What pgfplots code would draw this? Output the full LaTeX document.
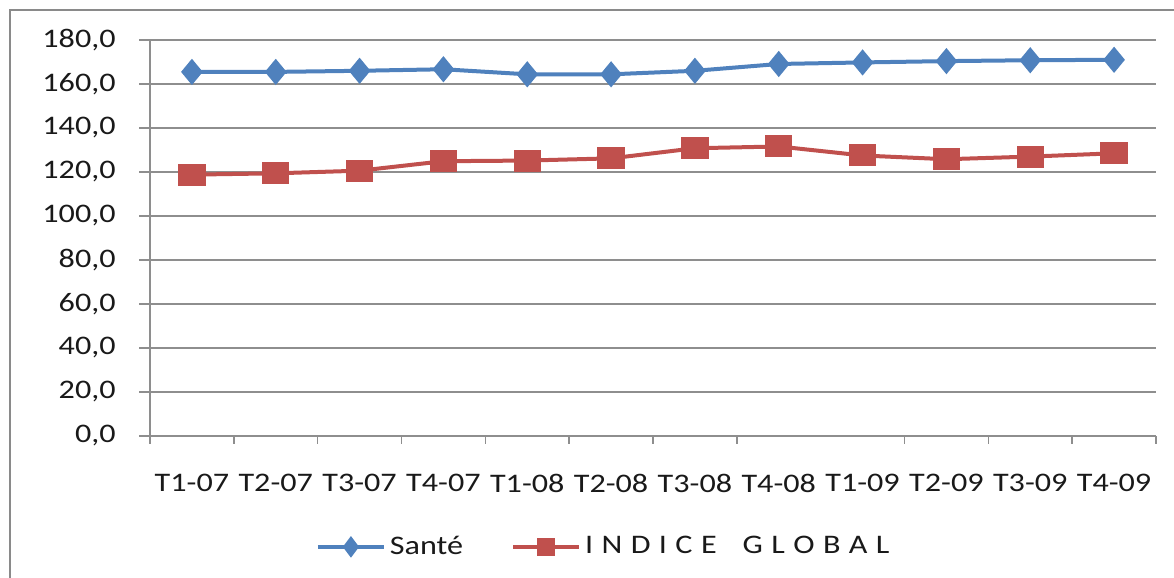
\documentclass[border=0pt]{standalone}
\usepackage{fontspec}
\setmainfont{Carlito}[FakeStretch=1.2]
\usepackage{pgfplots}
\pgfplotsset{compat=1.18}
\definecolor{sante}{HTML}{4F81BD}
\definecolor{indice}{HTML}{C0504D}
\definecolor{gridc}{HTML}{8E8E8E}
\definecolor{framec}{HTML}{8A8A8A}

\newcommand{\spaced}{I\hspace{4.2pt}N\hspace{4.2pt}D\hspace{4.2pt}I\hspace{4.2pt}C\hspace{4.2pt}E\hspace{13pt}G\hspace{4.2pt}L\hspace{4.2pt}O\hspace{4.2pt}B\hspace{4.2pt}A\hspace{4.2pt}L}

\begin{document}
\fontsize{13.4pt}{16pt}\selectfont
\begin{tikzpicture}
\useasboundingbox (0,0) rectangle (587pt,289pt);
\draw[framec, line width=1pt] (5pt,-10pt) rectangle (600pt,284pt);
\begin{axis}[
  at={(75pt,71pt)}, anchor=south west,
  scale only axis, width=503pt, height=198pt,
  xmin=-0.5, xmax=11.5, ymin=0, ymax=180,
  axis x line=bottom, axis y line=left,
  axis line style={gridc, line width=0.75pt, -},
  ytick={0,20,...,180},
  xtick={0,...,11},
  xticklabels={T1-07,T2-07,T3-07,T4-07,T1-08,T2-08,T3-08,T4-08,T1-09,T2-09,T3-09,T4-09},
  minor xtick={-0.5,0.5,1.5,2.5,3.5,4.5,5.5,6.5,8.5,9.5,10.5,11.5},
  major x tick style={draw=none},
  minor x tick style={gridc, line width=0.75pt},
  minor tick length=4pt,
  major tick length=5.5pt,
  ytick style={gridc, line width=0.75pt},
  tick align=outside,
  ymajorgrids,
  grid style={gridc, line width=0.75pt},
  tick label style={text=black!90},
  yticklabel style={xshift=-7pt, /pgf/number format/fixed, /pgf/number format/fixed zerofill,
    /pgf/number format/precision=1, /pgf/number format/use comma},
  /pgf/number format/assume math mode=true,
  xticklabel style={yshift=-9pt},
  legend columns=2,
  legend style={at={(0.452,-0.28)}, anchor=center, draw=none, fill=none,
    /tikz/every even column/.append style={column sep=22pt},
    nodes={inner sep=2pt, text=black!90}},
  legend image code/.code={\draw[mark repeat=2,mark phase=2,#1, mark options={scale=0.75}] plot coordinates {(0pt,0pt) (16.5pt,0pt) (33pt,0pt)};},
]
\addplot[sante, line width=2pt, mark=diamond*, mark size=5pt, mark options={xscale=1.1}] coordinates {
 (0,165.5) (1,165.5) (2,166.0) (3,166.7) (4,164.4) (5,164.4) (6,166.0) (7,169.1) (8,169.8) (9,170.4) (10,170.8) (11,171.0)};
\addlegendentry{Santé}
\addplot[indice, line width=2pt, mark=square*, mark size=4.5pt, mark options={xscale=1.3}] coordinates {
 (0,118.8) (1,119.4) (2,120.6) (3,124.9) (4,125.2) (5,126.2) (6,130.8) (7,131.6) (8,127.5) (9,125.8) (10,127.0) (11,128.5)};
\addlegendentry{\spaced}
\end{axis}
\end{tikzpicture}
\end{document}
